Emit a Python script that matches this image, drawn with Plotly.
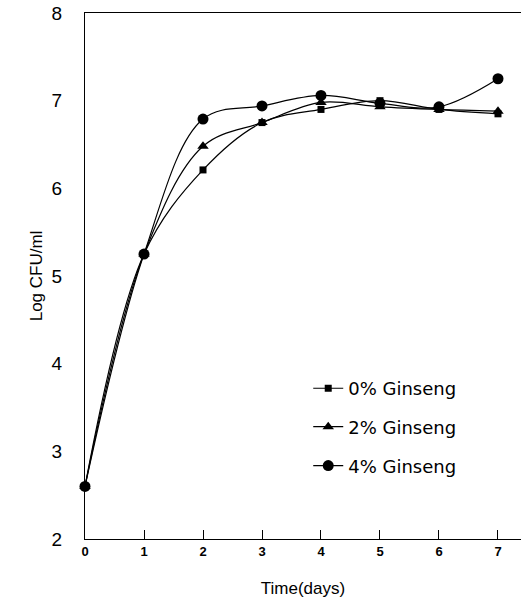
import plotly.graph_objects as go

days = [0, 1, 2, 3, 4, 5, 6, 7]
g0 = [2.6, 5.25, 6.21, 6.75, 6.90, 7.00, 6.90, 6.85]
g2 = [2.6, 5.25, 6.48, 6.75, 6.98, 6.93, 6.90, 6.88]
g4 = [2.6, 5.25, 6.79, 6.94, 7.06, 6.97, 6.93, 7.25]
names = ["0% Ginseng", "2% Ginseng", "4% Ginseng"]
symbols = ["square", "triangle-up", "circle"]
sizes = [7, 10, 11]
legends = ["legend", "legend2", "legend3"]

fig = go.Figure()
for ys, nm, sym, sz, lg in zip([g0, g2, g4], names, symbols, sizes, legends):
    fig.add_trace(go.Scatter(
        x=days, y=ys, name=nm, mode="lines+markers", legend=lg,
        line=dict(color="black", width=1.2, shape="spline", smoothing=1.0),
        marker=dict(symbol=sym, size=sz, color="black"),
        cliponaxis=False,
    ))

font = "Liberation Sans, Arial, sans-serif"
lfont = dict(size=18, family="DejaVu Sans, sans-serif", color="black")
leg_common = dict(x=0.512, xanchor="left", yanchor="middle",
                  bgcolor="rgba(0,0,0,0)", font=lfont, itemwidth=30)
fig.update_layout(
    width=521, height=600,
    margin=dict(l=85, r=0, t=13, b=61),
    plot_bgcolor="white", paper_bgcolor="white",
    font=dict(family=font, color="black"),
    showlegend=True,
    legend=dict(y=0.286, **leg_common),
    legend2=dict(y=0.213, **leg_common),
    legend3=dict(y=0.139, **leg_common),
    xaxis=dict(range=[0, 7.39], tickvals=days, ticktext=["<b>%d</b>" % d for d in days],
               showline=True, linecolor="black", linewidth=1, mirror=True,
               ticks="inside", ticklen=9, tickcolor="black",
               showgrid=False, zeroline=False,
               tickfont=dict(size=13, family=font),
               title=dict(text="Time(days)", font=dict(size=17), standoff=24)),
    yaxis=dict(range=[2, 8], tickvals=[2, 3, 4, 5, 6, 7, 8],
               showline=True, linecolor="black", linewidth=1,
               ticks="", showgrid=False, zeroline=False,
               ticklabelstandoff=18,
               tickfont=dict(size=19, family=font),
               title=dict(text="Log CFU/ml", font=dict(size=17), standoff=4)),
)

fig.write_html("out.html")
